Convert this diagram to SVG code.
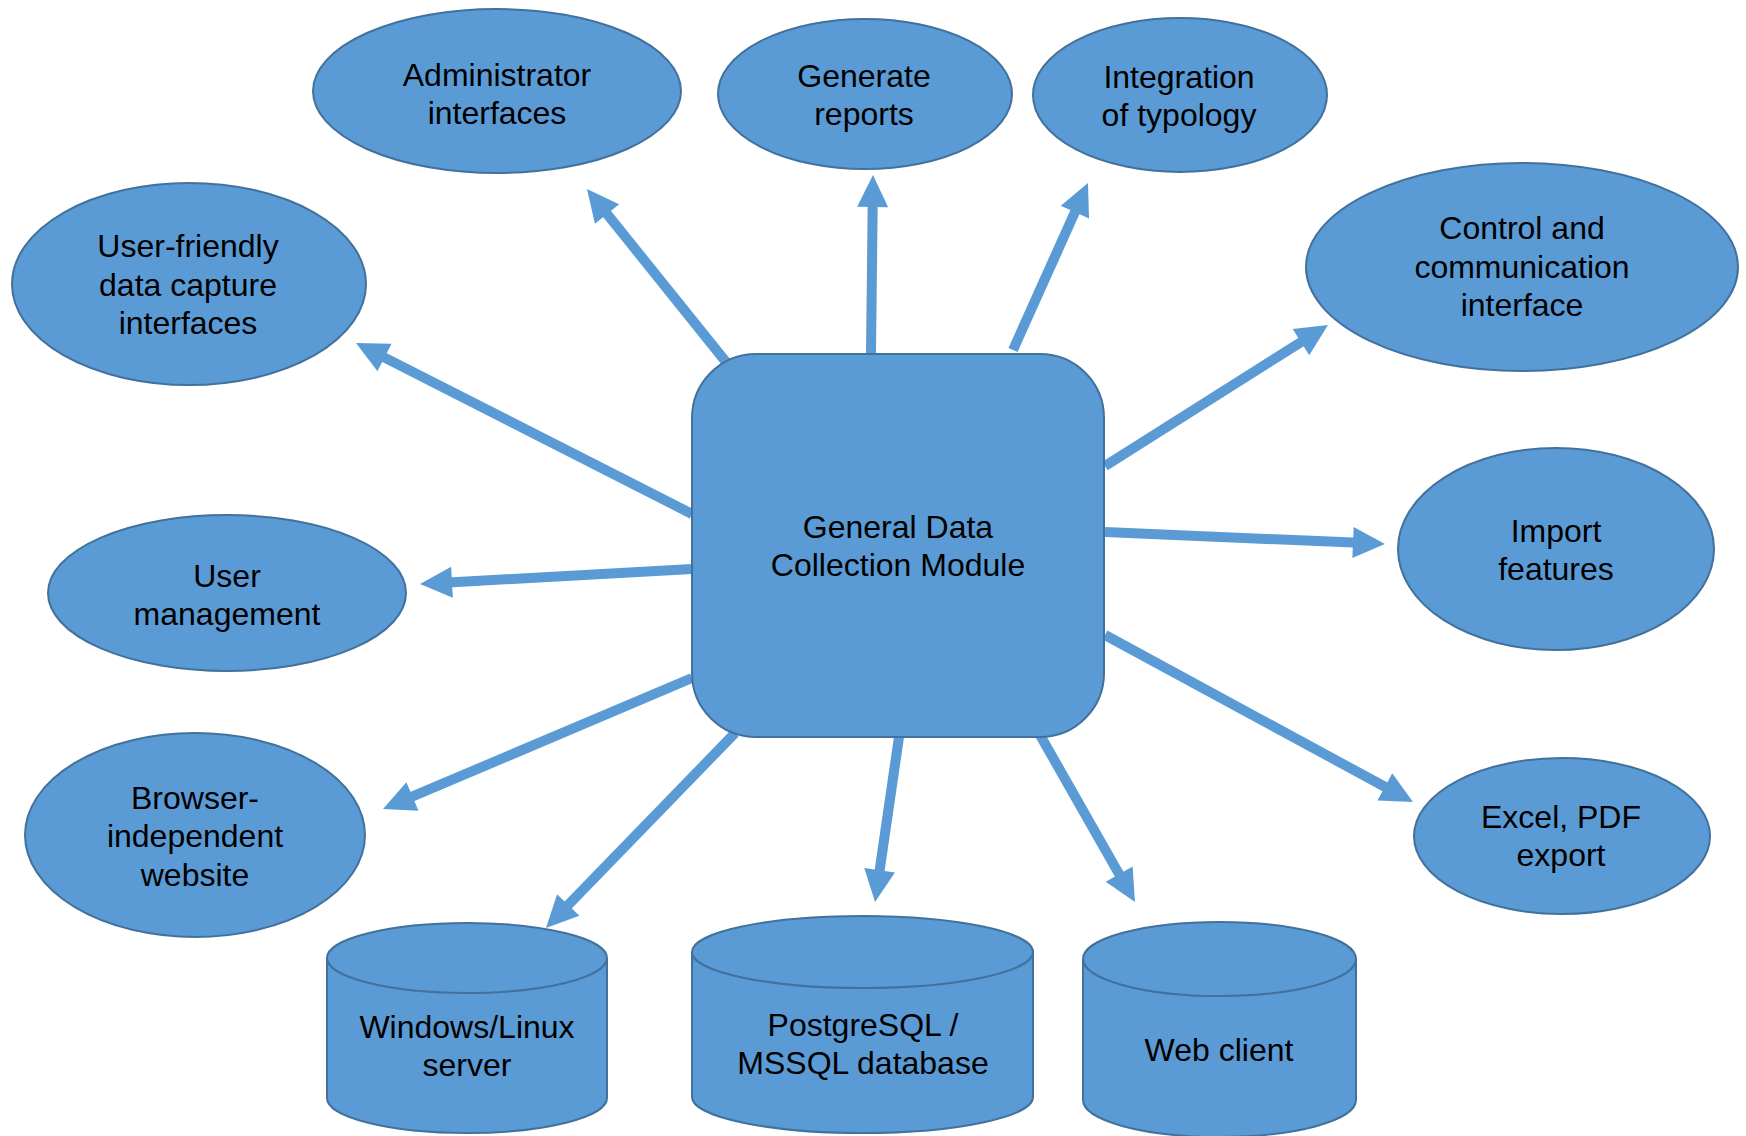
<svg xmlns="http://www.w3.org/2000/svg" width="1746" height="1136" viewBox="0 0 1746 1136">
<style>
.n{fill:#5B9BD5;stroke:#41719C;stroke-width:2}
.t{font-family:"Liberation Sans",Arial,sans-serif;font-size:32px;fill:#000;text-anchor:middle}
.c line{stroke:#5B9BD5;stroke-width:10;marker-end:url(#ah)}
</style>
<defs>
<marker id="ah" markerUnits="userSpaceOnUse" markerWidth="32" markerHeight="31" refX="12" refY="15.5" orient="auto" overflow="visible">
<path d="M0,0 L32,15.5 L0,31 z" fill="#5B9BD5"/>
</marker>
</defs>
<rect width="1746" height="1136" fill="#fff"/>
<g id="connectors" class="c">
<line x1="726" y1="362" x2="599.5" y2="204.6"/>
<line x1="871" y1="353" x2="872.8" y2="195"/>
<line x1="1013" y1="350" x2="1079.8" y2="201.2"/>
<line x1="692" y1="514" x2="373.8" y2="352.1"/>
<line x1="1105" y1="466" x2="1311.1" y2="335.7"/>
<line x1="692" y1="569" x2="440" y2="582.9"/>
<line x1="1105" y1="532" x2="1365" y2="543.1"/>
<line x1="692" y1="678" x2="401.4" y2="801.2"/>
<line x1="1105" y1="635" x2="1395.4" y2="792.5"/>
<line x1="735" y1="733" x2="559.9" y2="913.6"/>
<line x1="899" y1="737" x2="877.9" y2="882.2"/>
<line x1="1040" y1="735" x2="1125.1" y2="884.6"/>
</g>
<g id="center">
<rect class="n" x="692" y="354" width="412" height="383" rx="64" ry="64"/>
<text class="t" x="898" y="538">General Data</text>
<text class="t" x="898" y="576">Collection Module</text>
</g>
<g id="admin">
<ellipse class="n" cx="497" cy="91" rx="184" ry="82"/>
<text class="t" x="497" y="86">Administrator</text>
<text class="t" x="497" y="124">interfaces</text>
</g>
<g id="reports">
<ellipse class="n" cx="865" cy="94" rx="147" ry="75"/>
<text class="t" x="864" y="87">Generate</text>
<text class="t" x="864" y="125">reports</text>
</g>
<g id="typology">
<ellipse class="n" cx="1180" cy="95" rx="147" ry="77"/>
<text class="t" x="1179" y="88">Integration</text>
<text class="t" x="1179" y="126">of typology</text>
</g>
<g id="capture">
<ellipse class="n" cx="189" cy="284" rx="177" ry="101"/>
<text class="t" x="188" y="257">User-friendly</text>
<text class="t" x="188" y="296">data capture</text>
<text class="t" x="188" y="334">interfaces</text>
</g>
<g id="control">
<ellipse class="n" cx="1522" cy="267" rx="216" ry="104"/>
<text class="t" x="1522" y="239">Control and</text>
<text class="t" x="1522" y="278">communication</text>
<text class="t" x="1522" y="316">interface</text>
</g>
<g id="usermgmt">
<ellipse class="n" cx="227" cy="593" rx="179" ry="78"/>
<text class="t" x="227" y="587">User</text>
<text class="t" x="227" y="625">management</text>
</g>
<g id="import">
<ellipse class="n" cx="1556" cy="549" rx="158" ry="101"/>
<text class="t" x="1556" y="542">Import</text>
<text class="t" x="1556" y="580">features</text>
</g>
<g id="browser">
<ellipse class="n" cx="195" cy="835" rx="170" ry="102"/>
<text class="t" x="195" y="809">Browser-</text>
<text class="t" x="195" y="847">independent</text>
<text class="t" x="195" y="886">website</text>
</g>
<g id="export">
<ellipse class="n" cx="1562" cy="836" rx="148" ry="78"/>
<text class="t" x="1561" y="828">Excel, PDF</text>
<text class="t" x="1561" y="866">export</text>
</g>
<g id="server">
<path class="n" d="M327,958 L327,1098 A140,35 0 0 0 607,1098 L607,958 A140,35 0 0 0 327,958 Z"/>
<path class="n" d="M327,958 A140,35 0 0 0 607,958"/>
<text class="t" x="467" y="1038">Windows/Linux</text>
<text class="t" x="467" y="1076">server</text>
</g>
<g id="database">
<path class="n" d="M692,952 L692,1097 A170.5,36 0 0 0 1033,1097 L1033,952 A170.5,36 0 0 0 692,952 Z"/>
<path class="n" d="M692,952 A170.5,36 0 0 0 1033,952"/>
<text class="t" x="863" y="1036">PostgreSQL /</text>
<text class="t" x="863" y="1074">MSSQL database</text>
</g>
<g id="webclient">
<path class="n" d="M1083,959 L1083,1100 A136.5,37 0 0 0 1356,1100 L1356,959 A136.5,37 0 0 0 1083,959 Z"/>
<path class="n" d="M1083,959 A136.5,37 0 0 0 1356,959"/>
<text class="t" x="1219" y="1061">Web client</text>
</g>
</svg>
